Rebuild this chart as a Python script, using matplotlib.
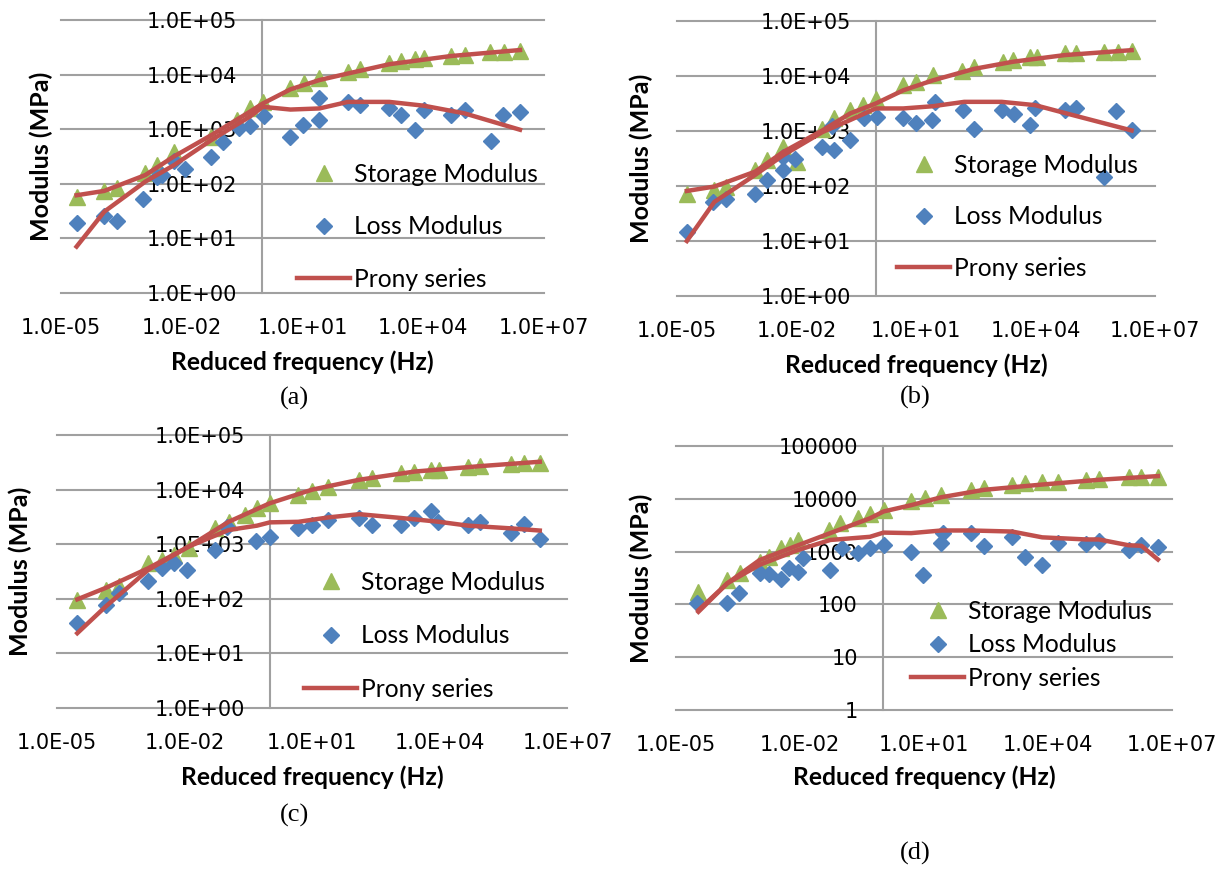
import matplotlib
matplotlib.use("Agg")
import matplotlib.pyplot as plt
from matplotlib.lines import Line2D
import numpy as np

# all frequencies / moduli below are log10 values

# (a)
a_st_f = [-4.62, -3.93, -3.61, -2.91, -2.62, -2.20, -1.27, -0.63, -0.31, 0.01, 0.70, 1.04,
          1.42, 2.13, 2.42, 3.16, 3.45, 3.80, 4.02, 4.69, 5.03, 5.67, 6.02, 6.41]
a_st = [1.76, 1.86, 1.92, 2.19, 2.34, 2.59, 2.86, 3.17, 3.38, 3.50, 3.75, 3.84,
        3.93, 4.05, 4.10, 4.21, 4.24, 4.28, 4.30, 4.34, 4.36, 4.41, 4.42, 4.43]
a_lo_f = [-4.62, -3.93, -3.61, -2.97, -2.62, -2.50, -2.20, -1.93, -1.27, -0.97, -0.58, -0.31,
          0.04, 0.70, 1.02, 1.42, 1.42, 2.13, 2.42, 3.16, 3.45, 3.80, 4.02, 4.69, 5.03,
          5.69, 5.98, 6.41]
a_lo = [1.29, 1.41, 1.31, 1.73, 2.13, 2.16, 2.41, 2.28, 2.50, 2.77, 3.02, 3.06,
        3.24, 2.86, 3.08, 3.17, 3.57, 3.50, 3.44, 3.38, 3.26, 2.99, 3.35, 3.26, 3.35,
        2.79, 3.26, 3.32]
a_pst_f = [-4.62, -3.93, -2.91, -2.20, -1.27, -0.31, 0.01, 0.70, 1.42, 2.13, 3.16, 4.69, 6.41]
a_pst = [1.79, 1.87, 2.16, 2.50, 2.89, 3.32, 3.47, 3.73, 3.90, 4.02, 4.19, 4.34, 4.45]
a_plo_f = [-4.62, -3.93, -2.91, -2.20, -1.27, -0.31, 0.01, 0.70, 1.42, 2.13, 3.16, 4.02,
           5.03, 6.41]
a_plo = [0.85, 1.49, 2.04, 2.34, 2.80, 3.23, 3.41, 3.36, 3.38, 3.50, 3.50, 3.43, 3.29, 2.99]

# (b)
b_st_f = [-4.75, -4.06, -3.77, -3.04, -2.75, -2.33, -1.99, -1.35, -1.07, -0.65, -0.33, -0.01,
          0.68, 1.00, 1.42, 2.16, 2.46, 3.18, 3.44, 3.87, 4.04, 4.73, 5.02, 5.72, 6.06, 6.41]
b_st = [1.86, 1.92, 1.99, 2.29, 2.47, 2.71, 2.44, 3.04, 3.23, 3.38, 3.47, 3.59,
        3.83, 3.89, 4.01, 4.10, 4.16, 4.26, 4.29, 4.35, 4.35, 4.41, 4.42, 4.44, 4.44, 4.46]
b_lo_f = [-4.75, -4.09, -3.77, -3.04, -2.75, -2.35, -2.35, -2.04, -1.37, -1.07, -1.12, -0.65,
          -0.30, 0.02, 0.68, 1.00, 1.40, 1.47, 2.19, 2.46, 3.15, 3.47, 3.87, 3.99, 4.73,
          5.02, 5.72, 6.01, 6.41]
b_lo = [1.17, 1.71, 1.77, 1.86, 2.11, 2.30, 2.53, 2.50, 2.71, 2.65, 3.09, 2.83,
        3.23, 3.26, 3.23, 3.14, 3.20, 3.53, 3.38, 3.04, 3.39, 3.31, 3.11, 3.41, 3.38,
        3.41, 2.17, 3.37, 3.01]
b_pst_f = [-4.75, -4.06, -3.04, -2.33, -1.35, -0.65, -0.01, 0.68, 1.42, 2.46, 3.44, 4.73, 6.41]
b_pst = [1.91, 1.99, 2.26, 2.62, 3.01, 3.32, 3.50, 3.74, 3.92, 4.13, 4.26, 4.38, 4.47]
b_plo_f = [-4.75, -4.06, -3.04, -2.33, -1.35, -0.65, -0.01, 0.68, 1.42, 2.21, 3.15, 3.99,
           4.93, 6.41]
b_plo = [1.00, 1.71, 2.20, 2.56, 2.98, 3.20, 3.41, 3.41, 3.45, 3.53, 3.53, 3.47, 3.29, 3.01]

# (c)
c_st_f = [-4.53, -3.86, -3.56, -2.86, -2.53, -2.26, -1.90, -1.28, -0.97, -0.58, -0.30, 0.00,
          0.67, 1.00, 1.37, 2.10, 2.40, 3.09, 3.40, 3.79, 3.98, 4.66, 4.95, 5.67, 5.98, 6.35]
c_st = [1.98, 2.16, 2.23, 2.65, 2.71, 2.80, 2.93, 3.29, 3.41, 3.54, 3.66, 3.75,
        3.90, 3.98, 4.05, 4.18, 4.21, 4.30, 4.33, 4.36, 4.36, 4.42, 4.43, 4.47, 4.48, 4.49]
c_lo_f = [-4.53, -3.86, -3.56, -2.86, -2.53, -2.26, -1.96, -1.28, -1.00, -0.32, 0.00,
          0.67, 1.00, 1.37, 2.10, 2.40, 3.09, 3.40, 3.79, 3.96, 4.66, 4.95, 5.67, 5.98, 6.35]
c_lo = [1.55, 1.89, 2.10, 2.32, 2.56, 2.65, 2.53, 2.90, 3.32, 3.05, 3.14,
        3.29, 3.35, 3.45, 3.48, 3.35, 3.35, 3.48, 3.60, 3.41, 3.35, 3.40, 3.20, 3.37, 3.09]
c_pst_f = [-4.53, -3.86, -2.86, -1.90, -0.97, 0.00, 1.00, 2.10, 3.40, 4.95, 6.35]
c_pst = [1.99, 2.20, 2.56, 2.96, 3.41, 3.75, 4.00, 4.18, 4.33, 4.43, 4.51]
c_plo_f = [-4.53, -3.86, -2.86, -1.90, -0.97, -0.30, 0.00, 0.67, 1.37, 2.10, 3.09, 3.98,
           4.66, 5.67, 6.35]
c_plo = [1.37, 1.86, 2.53, 2.96, 3.26, 3.34, 3.40, 3.41, 3.49, 3.55, 3.48, 3.41,
         3.34, 3.29, 3.25]

# (d)
d_st_f = [-4.46, -3.76, -3.46, -2.96, -2.74, -2.46, -2.24, -2.05, -1.31, -1.03, -0.60, -0.31,
          0.02, 0.69, 1.02, 1.42, 2.14, 2.45, 3.13, 3.45, 3.86, 4.24, 4.92, 5.23, 5.95, 6.26, 6.66]
d_st = [2.24, 2.46, 2.59, 2.81, 2.90, 3.06, 3.12, 3.22, 3.41, 3.54, 3.63, 3.72,
        3.79, 3.95, 4.01, 4.07, 4.17, 4.20, 4.26, 4.29, 4.32, 4.32, 4.36, 4.37, 4.42, 4.42, 4.42]
d_lo_f = [-4.49, -3.76, -3.48, -2.98, -2.74, -2.46, -2.27, -2.05, -1.93, -1.27, -0.98, -0.60,
          -0.31, 0.02, 0.69, 0.97, 1.40, 1.45, 2.14, 2.45, 3.13, 3.45, 3.86, 4.24, 4.92,
          5.23, 5.95, 6.26, 6.66]
d_lo = [2.02, 2.03, 2.22, 2.59, 2.57, 2.49, 2.68, 2.62, 2.87, 2.65, 3.06, 2.97,
        3.06, 3.12, 3.00, 2.56, 3.16, 3.35, 3.35, 3.11, 3.28, 2.90, 2.75, 3.16, 3.14,
        3.21, 3.03, 3.13, 3.08]
d_pst_f = [-4.46, -3.76, -2.98, -2.05, -1.27, -0.31, 0.02, 0.69, 1.42, 2.45, 3.86, 5.23, 6.66]
d_pst = [1.89, 2.40, 2.84, 3.12, 3.35, 3.63, 3.76, 3.88, 4.03, 4.17, 4.27, 4.36, 4.43]
d_plo_f = [-4.46, -3.76, -2.98, -2.05, -1.27, -0.31, 0.02, 0.69, 1.42, 2.14, 3.13, 3.86,
           4.92, 5.23, 5.95, 6.26, 6.66]
d_plo = [1.86, 2.40, 2.75, 3.03, 3.22, 3.28, 3.36, 3.35, 3.40, 3.40, 3.38, 3.27,
         3.23, 3.23, 3.12, 3.11, 2.85]

x_ticks = [1e-5, 1e-2, 1e1, 1e4, 1e7]
y_ticks = [1, 10, 100, 1000, 10000, 100000]
series_names = ["Storage Modulus", "Loss Modulus", "Prony series"]

GREEN = "#9BBB59"
BLUE = "#4F81BD"
RED = "#C0504D"
GRID = "#A0A0A0"
FONT = "Lato"
TICKFONT = "DejaVu Sans"

W, H = 1227, 869


def px_box(left, right, top, bottom):
    return [left / W, 1 - bottom / H, (right - left) / W, (bottom - top) / H]


def draw_panel(fig, box, data, plain_y, leg_xy, leg_space, ylab_x):
    st_f, st, lo_f, lo, pst_f, pst, plo_f, plo = [10 ** np.array(v) for v in data]
    ax = fig.add_axes(box)
    ax.set_xscale("log")
    ax.set_yscale("log")
    ax.set_xlim(1e-5, 1e7)
    ax.set_ylim(1, 1e5)

    ax.plot(st_f, st, ls="none", marker="^", ms=12, color=GREEN, mec=GREEN,
            clip_on=False, zorder=3)
    ax.plot(lo_f, lo, ls="none", marker="D", ms=8.3, color=BLUE, mec=BLUE,
            clip_on=False, zorder=3)
    ax.plot(pst_f, pst, color=RED, lw=3.2, clip_on=False, zorder=4)
    ax.plot(plo_f, plo, color=RED, lw=3.2, clip_on=False, zorder=4)

    for s in ["top", "right", "bottom"]:
        ax.spines[s].set_visible(False)
    ax.spines["left"].set_position(("data", 1))
    ax.spines["left"].set_color(GRID)
    ax.spines["left"].set_linewidth(1.5)

    ax.set_xticks(x_ticks)
    ax.set_xticklabels([f"{v:.1E}" for v in x_ticks])
    ax.set_yticks(y_ticks)
    if plain_y:
        ax.set_yticklabels([str(v) for v in y_ticks])
    else:
        ax.set_yticklabels([f"{v:.1E}" for v in y_ticks])
    ax.minorticks_off()
    ax.tick_params(axis="x", length=0, pad=18, labelsize=15)
    ax.tick_params(axis="y", length=0, pad=18, labelsize=15)
    for t in ax.get_xticklabels() + ax.get_yticklabels():
        t.set_fontfamily(TICKFONT)

    ax.grid(axis="y", color=GRID, lw=1.5)
    ax.grid(axis="x", visible=False)
    for g in ax.get_ygridlines():
        g.set_clip_on(False)
    ax.set_axisbelow(True)

    ax.set_xlabel("Reduced frequency (Hz)", fontsize=17.7, fontweight="bold",
                  family=FONT, va="center")
    ax.xaxis.set_label_coords(0.5, -0.253)
    ax.set_ylabel("Modulus (MPa)", fontsize=18, fontweight="bold",
                  family=FONT, va="center")
    ax.yaxis.set_label_coords(ylab_x, 0.5)

    handles = [
        Line2D([], [], ls="none", marker="^", ms=12, color=GREEN),
        Line2D([], [], ls="none", marker="D", ms=8.3, color=BLUE),
        Line2D([], [], color=RED, lw=3.2),
    ]
    fig.legend(handles, series_names, loc="upper left",
               bbox_to_anchor=(leg_xy[0] / W, 1 - leg_xy[1] / H),
               frameon=False, borderpad=0, borderaxespad=0,
               handlelength=2.17, handletextpad=0.16, labelspacing=leg_space,
               prop={"family": FONT, "size": 17.7})
    return ax


fig = plt.figure(figsize=(W / 100, H / 100), dpi=100)

draw_panel(fig, px_box(61.3, 543.7, 20, 293),
           [a_st_f, a_st, a_lo_f, a_lo, a_pst_f, a_pst, a_plo_f, a_plo],
           False, (297, 163), 1.2, -0.041)
draw_panel(fig, px_box(676.9, 1155.1, 21, 296),
           [b_st_f, b_st, b_lo_f, b_lo, b_pst_f, b_pst, b_plo_f, b_plo],
           False, (897, 154), 1.15, -0.074)
draw_panel(fig, px_box(57.3, 567.4, 435, 708),
           [c_st_f, c_st, c_lo_f, c_lo, c_pst_f, c_pst, c_plo_f, c_plo],
           False, (304, 571), 1.24, -0.0735)
draw_panel(fig, px_box(676.1, 1172.0, 446, 710),
           [d_st_f, d_st, d_lo_f, d_lo, d_pst_f, d_pst, d_plo_f, d_plo],
           True, (911, 600), 0.42, -0.070)

for lab, x, y in [("(a)", 294.6, 398), ("(b)", 915, 397), ("(c)", 294.6, 815), ("(d)", 915, 853)]:
    fig.text(x / W, 1 - y / H, lab, ha="center", va="center",
             family="Liberation Serif", fontsize=19)

fig.savefig("out.png", dpi=100)
